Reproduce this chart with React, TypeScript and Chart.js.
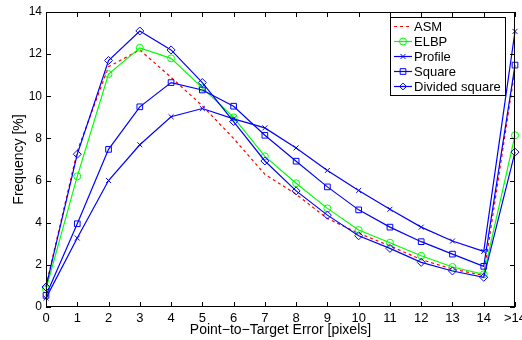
import React, { useEffect, useRef } from "react";
import { Chart, registerables } from "chart.js";

Chart.register(...registerables);

const categories = ["0", "1", "2", "3", "4", "5", "6", "7", "8", "9", "10", "11", "12", "13", "14", ">14"];
const seriesNames = ["ASM", "ELBP", "Profile", "Square", "Divided square"];
const asm = [1.0, 7.4, 11.4, 12.2, 10.9, 9.55, 8.0, 6.3, 5.35, 4.2, 3.5, 2.9, 2.25, 1.8, 1.5, 11.3];
const elbp = [0.85, 6.2, 11.05, 12.3, 11.8, 10.4, 9.0, 7.15, 5.87, 4.68, 3.65, 3.05, 2.43, 1.9, 1.55, 8.15];
const profile = [0.42, 3.27, 6.0, 7.7, 9.03, 9.42, 8.93, 8.5, 7.55, 6.48, 5.53, 4.64, 3.79, 3.13, 2.64, 13.08];
const square = [0.55, 3.95, 7.48, 9.5, 10.65, 10.3, 9.53, 8.15, 6.92, 5.7, 4.61, 3.79, 3.1, 2.51, 1.93, 11.48];
const dividedSquare = [0.95, 7.25, 11.7, 13.1, 12.2, 10.65, 8.8, 6.93, 5.51, 4.36, 3.38, 2.78, 2.12, 1.71, 1.41, 7.35];
const yMin = 0;
const yMax = 14;
const yStep = 2;
const xTitle = "Point\u2212to\u2212Target Error [pixels]";
const yTitle = "Frequency [%]";

const FONT = "'Liberation Sans', Arial, Helvetica, sans-serif";

function drawMarker(ctx: CanvasRenderingContext2D, style: string, r: number, x: number, y: number) {
  ctx.beginPath();
  if (style === "circle") {
    ctx.arc(x, y, r, 0, Math.PI * 2);
  } else if (style === "rect") {
    const s = r * Math.SQRT1_2;
    ctx.rect(x - s, y - s, 2 * s, 2 * s);
  } else if (style === "rectRot") {
    const s = r * Math.SQRT1_2 * 1.2;
    ctx.moveTo(x, y - s);
    ctx.lineTo(x + s, y);
    ctx.lineTo(x, y + s);
    ctx.lineTo(x - s, y);
    ctx.closePath();
  } else if (style === "crossRot") {
    const s = r * Math.SQRT1_2;
    ctx.moveTo(x - s, y - s);
    ctx.lineTo(x + s, y + s);
    ctx.moveTo(x + s, y - s);
    ctx.lineTo(x - s, y + s);
  }
  ctx.stroke();
}

const framePlugin = {
  id: "matlabFrame",
  afterDraw(chart: any) {
    const { ctx, chartArea } = chart;
    const { left, right, top, bottom } = chartArea;
    const xs = chart.scales.x;
    const ys = chart.scales.y;
    ctx.save();
    ctx.strokeStyle = "#000";
    ctx.lineWidth = 1;
    ctx.strokeRect(left + 0.5, top + 0.5, right - left - 1, bottom - top - 1);
    const tl = 5;
    ctx.beginPath();
    for (let i = 0; i < xs.ticks.length; i++) {
      const px = Math.round(xs.getPixelForTick(i)) + 0.5;
      ctx.moveTo(px, bottom);
      ctx.lineTo(px, bottom - tl);
      ctx.moveTo(px, top);
      ctx.lineTo(px, top + tl);
    }
    for (let i = 0; i < ys.ticks.length; i++) {
      const py = Math.round(ys.getPixelForValue(ys.ticks[i].value)) + 0.5;
      ctx.moveTo(left, py);
      ctx.lineTo(left + tl, py);
      ctx.moveTo(right, py);
      ctx.lineTo(right - tl, py);
    }
    ctx.stroke();

    // legend
    ctx.font = "13px " + FONT;
    const datasets = chart.data.datasets;
    let maxW = 0;
    datasets.forEach((d: any) => {
      maxW = Math.max(maxW, ctx.measureText(d.label).width);
    });
    const rowH = 15;
    const lineLen = 18;
    const w = Math.round(4 + lineLen + 2 + maxW + 4);
    const h = datasets.length * rowH + 3;
    const x1 = right - 10;
    const x0 = Math.round(x1 - w);
    const y0 = top + 5;
    ctx.fillStyle = "#fff";
    ctx.fillRect(x0, y0, w, h);
    ctx.strokeStyle = "#000";
    ctx.strokeRect(x0 + 0.5, y0 + 0.5, w, h);
    datasets.forEach((d: any, i: number) => {
      const cy = y0 + 9 + i * rowH;
      ctx.save();
      ctx.strokeStyle = d.borderColor;
      ctx.lineWidth = d.borderWidth;
      ctx.setLineDash(d.borderDash || []);
      ctx.beginPath();
      ctx.moveTo(x0 + 4, cy + 0.5);
      ctx.lineTo(x0 + 4 + lineLen, cy + 0.5);
      ctx.stroke();
      ctx.restore();
      if (d.pointRadius > 0) {
        ctx.save();
        ctx.strokeStyle = d.borderColor;
        ctx.lineWidth = 1;
        drawMarker(ctx, d.pointStyle, d.pointRadius, x0 + 4 + lineLen / 2, cy + 0.5);
        ctx.restore();
      }
      ctx.fillStyle = "#000";
      ctx.textBaseline = "middle";
      ctx.textAlign = "left";
      ctx.fillText(d.label, x0 + 4 + lineLen + 2, cy + 1);
    });
    ctx.restore();
  },
};

export default function App() {
  const ref = useRef<HTMLCanvasElement>(null);
  useEffect(() => {
    document.body.style.margin = "0";
    const canvas = ref.current;
    if (!canvas) return;
    const blue = "#0000ff";
    const mk = (label: string, data: number[], color: string, style: any, radius: number, order: number, dash?: number[]) => ({
      label,
      data,
      borderColor: color,
      backgroundColor: "rgba(0,0,0,0)",
      pointBackgroundColor: "rgba(0,0,0,0)",
      pointBorderColor: color,
      pointBorderWidth: 1,
      borderWidth: 1.2,
      borderDash: dash,
      pointStyle: style,
      pointRadius: radius,
      pointHoverRadius: radius,
      tension: 0,
      fill: false,
      order,
    });
    const chart = new Chart(canvas, {
      type: "line",
      data: {
        labels: categories,
        datasets: [
          mk(seriesNames[0], asm, "#ff0000", false, 0, 4, [3, 3]),
          mk(seriesNames[1], elbp, "#00ff00", "circle", 3.5, 3),
          mk(seriesNames[2], profile, blue, "crossRot", 3.5, 2),
          mk(seriesNames[3], square, blue, "rect", 4, 1),
          mk(seriesNames[4], dividedSquare, blue, "rectRot", 4, 0),
        ],
      },
      options: {
        animation: false,
        responsive: true,
        maintainAspectRatio: false,
        layout: { padding: { top: 12, right: 7, left: 0, bottom: 0 } },
        plugins: {
          legend: { display: false },
          tooltip: { enabled: false },
          title: { display: false },
        },
        scales: {
          x: {
            type: "category",
            offset: false,
            grid: { display: false, drawTicks: false },
            border: { display: false },
            ticks: {
              color: "#000",
              font: { family: FONT, size: 13 },
              padding: 4,
              maxRotation: 0,
              autoSkip: false,
            },
            title: {
              display: true,
              text: xTitle,
              color: "#000",
              font: { family: FONT, size: 14 },
              padding: { top: 0, bottom: 1 },
            },
            afterFit: (s: any) => {
              s.height = 33;
              s.paddingLeft = 0;
              s.paddingRight = 0;
            },
          },
          y: {
            min: yMin,
            max: yMax,
            grid: { display: false, drawTicks: false },
            border: { display: false },
            ticks: {
              stepSize: yStep,
              color: "#000",
              font: { family: FONT, size: 12 },
              padding: 4,
            },
            title: {
              display: true,
              text: yTitle,
              color: "#000",
              font: { family: FONT, size: 14 },
              padding: { top: 11, bottom: 0 },
            },
            afterFit: (s: any) => {
              s.width = 46;
              s.paddingTop = 0;
              s.paddingBottom = 0;
            },
          },
        },
      },
      plugins: [framePlugin],
    });
    return () => chart.destroy();
  }, []);
  return (
    <div style={{ width: 522, height: 340, position: "relative" }}>
      <canvas ref={ref} />
    </div>
  );
}
